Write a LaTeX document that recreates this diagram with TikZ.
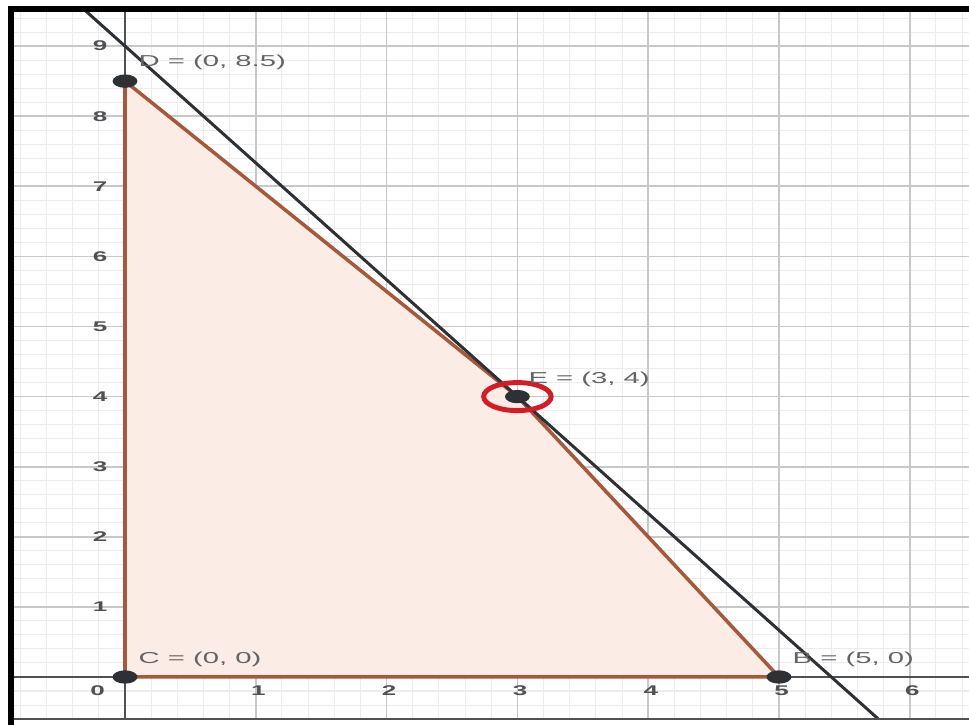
\documentclass[tikz,border=0pt]{standalone}
\usepackage{fontspec}
\setmainfont{Liberation Sans}
\definecolor{gridmajor}{RGB}{200, 200, 200}
\definecolor{gridminor}{RGB}{236, 236, 236}
\definecolor{axisgray}{RGB}{80, 80, 85}
\definecolor{edgebrown}{RGB}{168, 88, 58}
\definecolor{fillpeach}{RGB}{251, 237, 229}
\definecolor{linedark}{RGB}{45, 48, 52}
\definecolor{labelgray}{RGB}{100, 100, 100}
\definecolor{ringred}{RGB}{214, 26, 38}
\usetikzlibrary{calc}
\tikzset{
    minorgrid/.style={draw=gridminor, line width=0.6pt},
    majorgrid/.style={draw=gridmajor, line width=1pt},
    axisline/.style={draw=axisgray, line width=1.3pt},
    polyedge/.style={draw=edgebrown, line width=2pt, line join=round},
    constraint/.style={draw=linedark, line width=1.7pt},
    ptdot/.style={fill=linedark},
    pointlbl/.style={font=\small, text=labelgray, anchor=west, xscale=1.85, inner sep=0pt},
    ticklbl/.style={font=\footnotesize\bfseries, text=axisgray, xscale=1.85, inner sep=0pt}
}

\begin{document}
\begin{tikzpicture}[x=2.616cm, y=1.402cm]
    \useasboundingbox (-0.9557,-0.6847) rectangle (6.4526,9.6576);

    % grid, clipped to the frame
    \begin{scope}
        \clip (-0.8486,-0.599) rectangle (6.4526,9.486);
        \draw[minorgrid, step=0.2] (-1,-1) grid (7,10);
        \draw[majorgrid, step=1] (-1,-1) grid (7,10);

        % corner points of the region
        \coordinate (C) at (0,0);
        \coordinate (B) at (5,0);
        \coordinate (E) at (3,4);
        \coordinate (D) at (0,8.5);

        \fill[fillpeach] (C) -- (B) -- (E) -- (D) -- cycle;

        % axes
        \draw[axisline] (-1,0) -- (7,0);
        \draw[axisline] (0,-1) -- (0,10);

        \draw[polyedge] (C) -- (B) -- (E) -- (D) -- cycle;

        % 5x + 3y = 27
        \coordinate (L1) at (-0.6,10);
        \coordinate (L2) at (6,-1);
        \draw[constraint] (L1) -- (L2);
    \end{scope}

    % tick labels
    \foreach \k in {1,...,9}
        \node[ticklbl] (ty\k) at (-0.19,\k) {\k};
    \foreach \k in {1,...,6}
        \node[ticklbl] (tx\k) at (\k+0.02,-0.19) {\k};
    \node[ticklbl] (t0) at (-0.21,-0.19) {0};

    % points
    \foreach \p in {C,B,E,D}
        \fill[ptdot] (\p) circle[radius=0.095];
    \draw[ringred, line width=2.8pt] (E) ellipse[x radius=0.258, y radius=0.2];

    \node[pointlbl] (labD) at ($(D)+(0.1,0.27)$) {D = (0, 8.5)};
    \node[pointlbl] (labE) at ($(E)+(0.08,0.24)$) {E = (3, 4)};
    \node[pointlbl] (labC) at ($(C)+(0.1,0.25)$) {C = (0, 0)};
    \node[pointlbl] (labB) at ($(B)+(0.1,0.25)$) {B = (5, 0)};

    % frame
    \fill[black] (-0.8945,-0.6847) rectangle (-0.8486,9.572);
    \fill[black] (-0.8945,9.486) rectangle (6.4526,9.572);
    \draw[axisgray, line width=1pt] (-0.8486,-0.599) -- (6.4526,-0.599);
\end{tikzpicture}
\end{document}
